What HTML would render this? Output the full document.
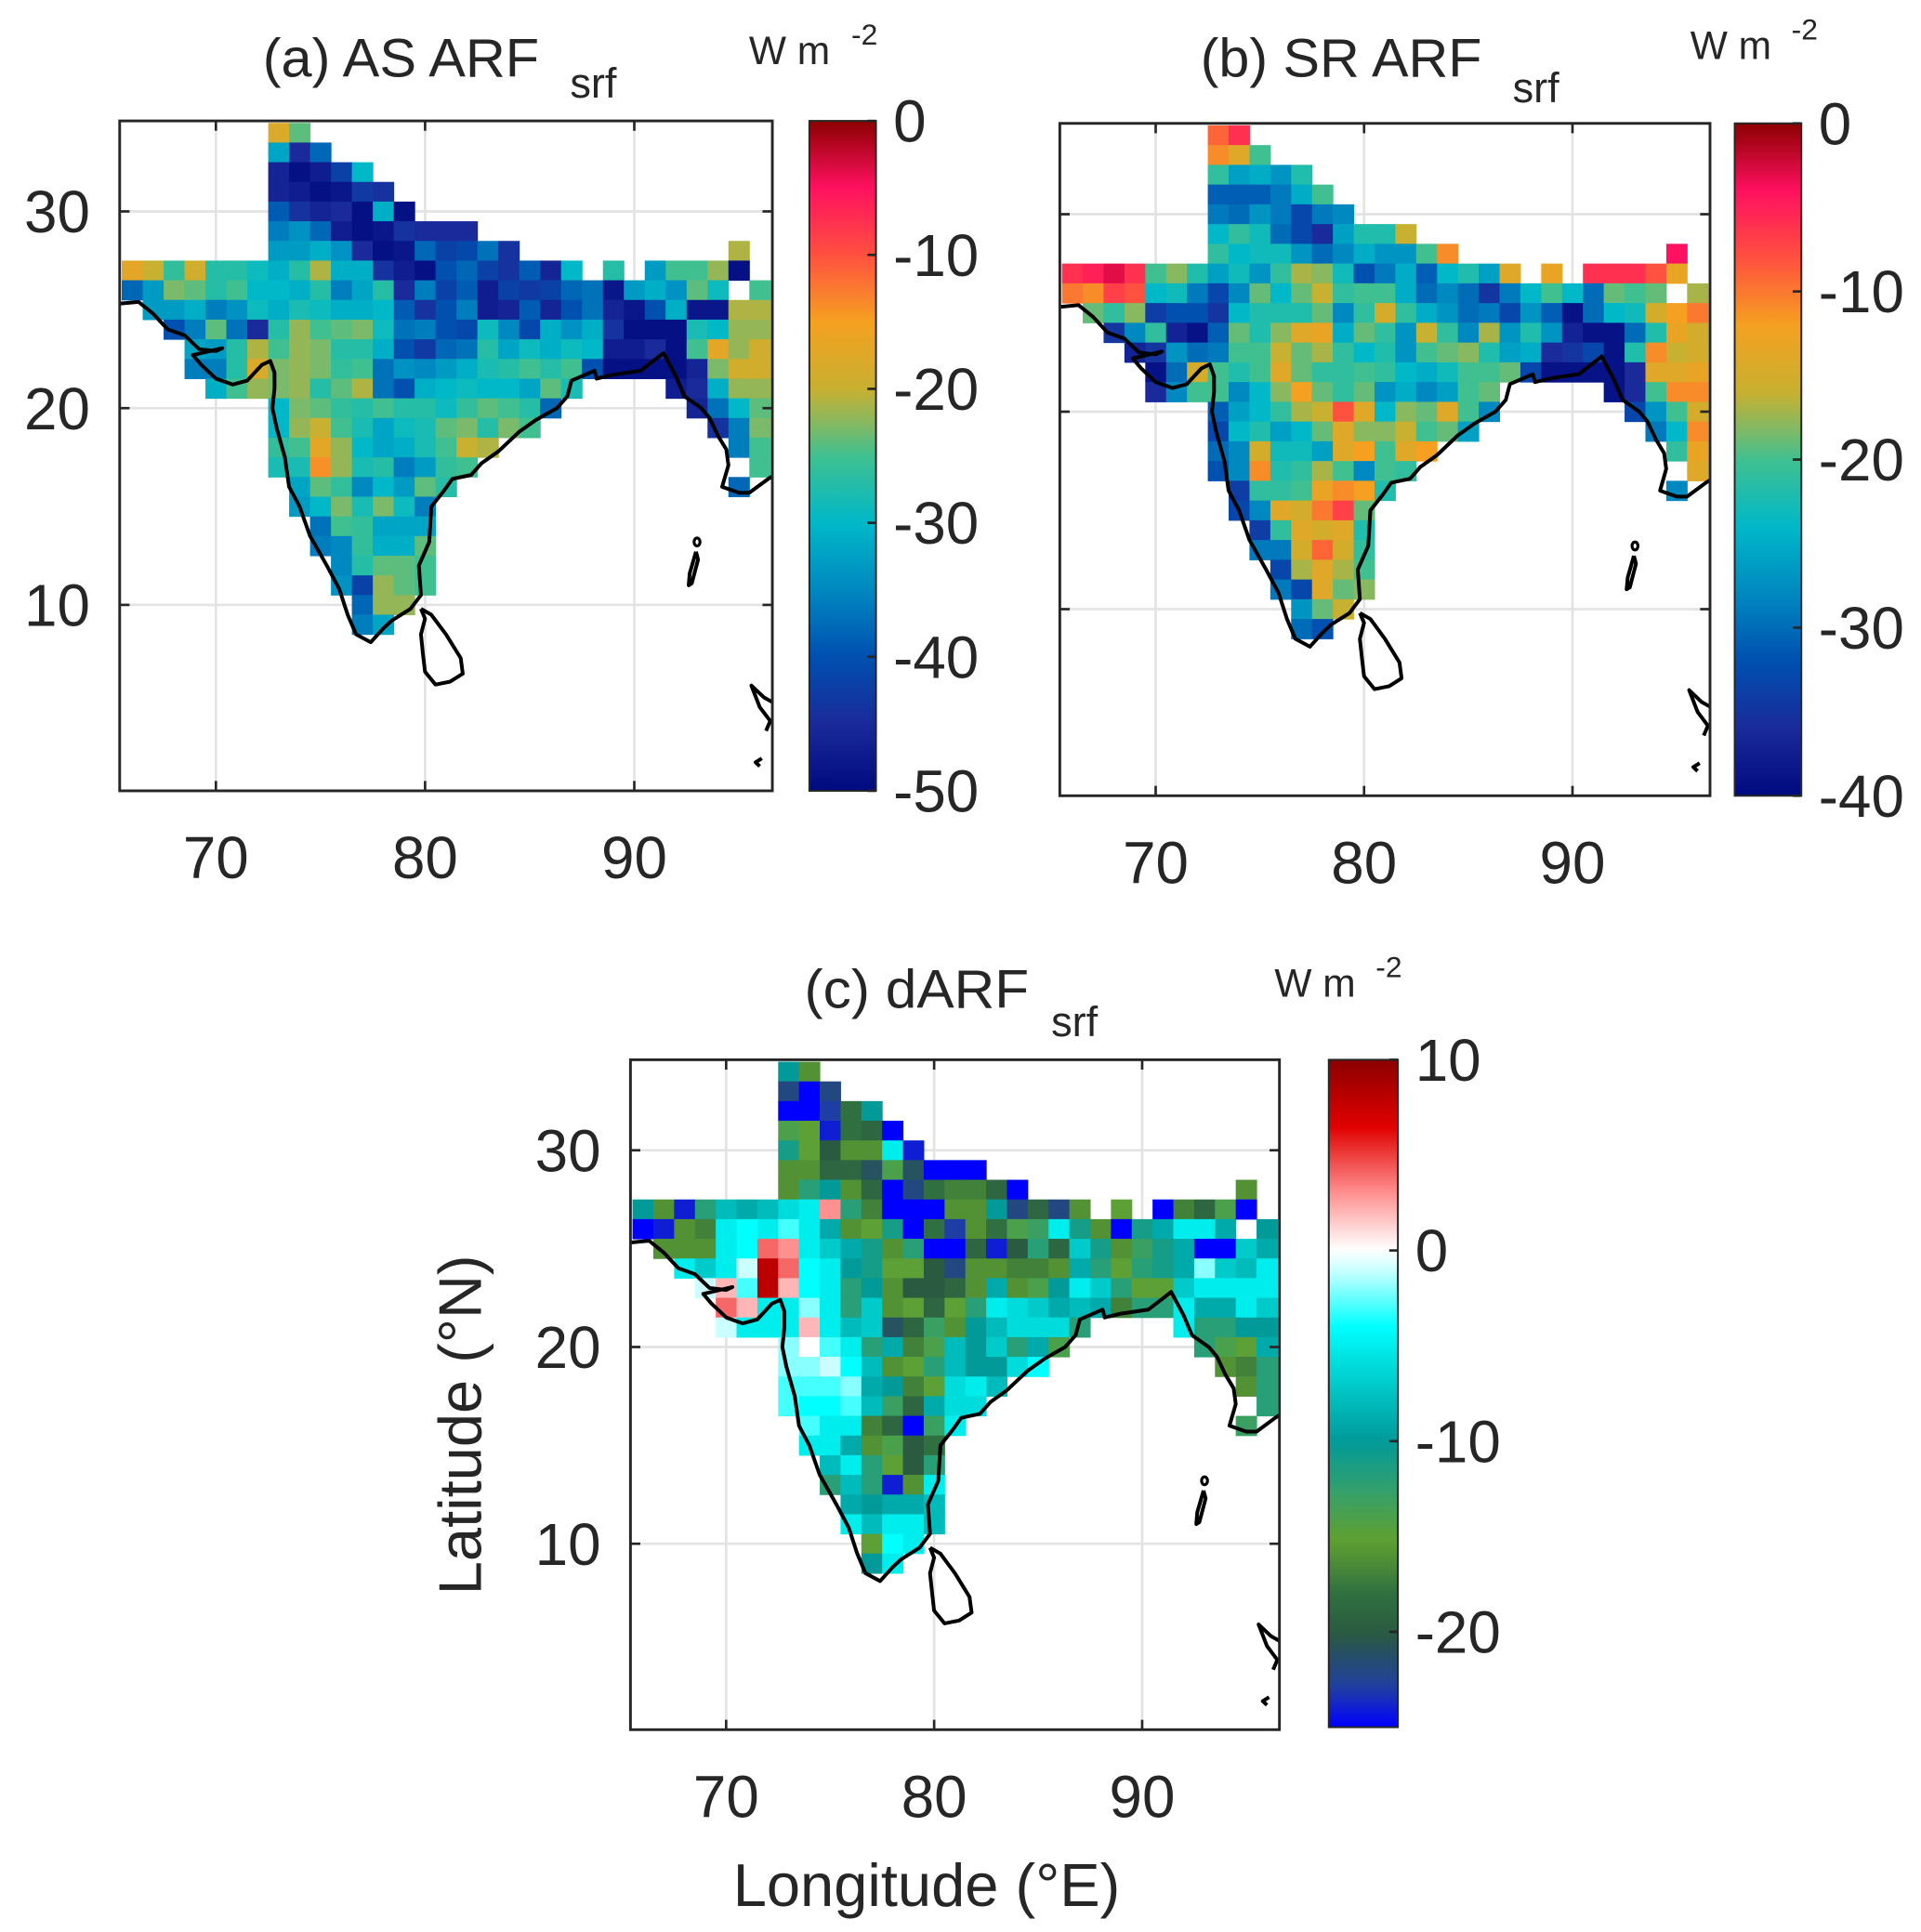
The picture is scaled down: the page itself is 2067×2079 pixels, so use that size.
<!DOCTYPE html>
<html><head><meta charset="utf-8">
<style>
html,body{margin:0;padding:0;background:#fff;}
svg{display:block;}
text{font-family:"Liberation Sans",sans-serif;fill:#262626;}
</style></head>
<body>
<svg id="fig" xmlns="http://www.w3.org/2000/svg" width="2067" height="2079" viewBox="0 0 1557 1566" preserveAspectRatio="none">
  <defs>
    <clipPath id="clipA"><rect x="97" y="98" width="529" height="543"/></clipPath>
    <clipPath id="clipB"><rect x="859" y="100" width="527" height="545"/></clipPath>
    <clipPath id="clipC"><rect x="511" y="859" width="526" height="543"/></clipPath>
  </defs>
  <g id="panelA"></g>
  <g id="panelB"></g>
  <g id="panelC"></g>

  <text x="213" y="62" font-size="44" textLength="224" lengthAdjust="spacingAndGlyphs">(a) AS ARF</text>
  <text x="462" y="79" font-size="34">srf</text>
  <text x="607" y="52" font-size="32">W m</text>
  <text x="690" y="36" font-size="24">-2</text>

  <text x="973" y="62" font-size="44" textLength="228" lengthAdjust="spacingAndGlyphs">(b) SR ARF</text>
  <text x="1226" y="83" font-size="34">srf</text>
  <text x="1370" y="48" font-size="32">W m</text>
  <text x="1452" y="32" font-size="24">-2</text>

  <text x="652" y="817" font-size="44" textLength="182" lengthAdjust="spacingAndGlyphs">(c) dARF</text>
  <text x="852" y="840" font-size="34">srf</text>
  <text x="1033" y="808" font-size="32">W m</text>
  <text x="1115" y="792" font-size="24">-2</text>

  <text x="0" y="0" font-size="49" text-anchor="middle" transform="translate(390,1155) rotate(-90)">Latitude (°N)</text>
  <text x="751" y="1545" font-size="49" text-anchor="middle">Longitude (°E)</text>
</svg>
<script>
// ---- data (lat, start lon, values W m-2) ----
const aRows = [
[34,73,[-18,-24]],
[33,73,[-32,-45,-38]],
[32,73,[-46,-49,-47,-42,-30]],
[31,73,[-46,-47,-49,-48,-43,-44]],
[30,73,[-39,-44,-46,-45,-49,-31,-49]],
[29,73,[-36,-34,-38,-47,-49,-48,-44,-45,-45,-45]],
[28,73,[-33,-33,-31,-34,-45,-49,-48,-38,-42,-41,-37,-44]],
[28,95,[-21]],
[27,66,[-17,-20,-26,-19,-27,-27,-29,-31,-27,-21,-31,-31,-44,-47,-49,-40,-38,-42,-44,-39,-46,-30,null,-27,null,-33,-25,-25,-22,-49]],
[26,66,[-38,-33,-23,-24,-27,-25,-30,-30,-31,-27,-36,-32,-27,-45,-36,-42,-39,-47,-42,-43,-42,-38,-37,-48,-33,-31,-34,-24,-29,null,-25]],
[25,67,[-33,-33,-31,-36,-34,-29,-31,-28,-29,-31,-31,-30,-39,-44,-40,-36,-47,-46,-39,-46,-40,-37,-46,-48,-40,-31,-48,-48,-21,-21]],
[24,68,[-40,-36,-24,-37,-45,-27,-22,-25,-24,-23,-29,-37,-36,-40,-41,-29,-35,-41,-31,-34,-31,-44,-49,-49,-49,-28,-30,-22,-22]],
[23,69,[-32,-33,-27,-21,-25,-22,-23,-27,-27,-31,-40,-43,-38,-37,-27,-32,-29,-31,-29,-30,-47,-47,-45,-49,-25,-17,-22,-19]],
[22,69,[-36,-36,-27,-18,-23,-22,-23,-26,-25,-37,-34,-35,-33,-31,-28,-27,-25,-27,-25,-40,-49,-49,-49,-49,-46,-23,-19,-19]],
[21,70,[-31,-25,-22,-23,-22,-27,-24,-21,-37,-40,-31,-30,-29,-30,-30,-32,-24,-28]],
[21,92,[-47,-45,-31,-22,-22]],
[20,73,[-30,-23,-24,-26,-27,-25,-27,-27,-29,-26,-24,-25,-27,-38]],
[20,93,[-46,-37,-30,-24]],
[19,73,[-30,-22,-20,-25,-28,-32,-29,-28,-24,-23,-27,-23,-25]],
[19,94,[-44,-36,-23]],
[18,73,[-26,-25,-17,-22,-30,-32,-31,-28,-25,-20,-21]],
[18,95,[-36,-25]],
[17,73,[-28,-28,-14,-22,-28,-27,-36,-33,-26,-25]],
[17,96,[-25]],
[16,74,[-32,-24,-26,-35,-30,-33,-24,-27]],
[16,95,[-38]],
[15,74,[-33,-30,-23,-28,-23,-29,-36]],
[14,75,[-37,-25,-26,-32,-32,-32]],
[13,75,[-36,-35,-26,-31,-31,-24]],
[12,76,[-35,-27,-24,-24,-25]],
[11,76,[-34,-42,-22,-24,-25]],
[10,77,[-38,-22,-22]],
[9,77,[-36,-32]]
];
const bRows = [
[34,73,[-9,-6]],
[33,73,[-11,-14,-20]],
[32,73,[-21,-26,-25,-27,-22]],
[31,73,[-31,-31,-31,-29,-25,-20]],
[30,73,[-29,-30,-27,-29,-33,-29,-28]],
[29,73,[-24,-21,-23,-30,-33,-36,-26,-22,-22,-16]],
[28,73,[-21,-24,-23,-23,-27,-30,-28,-25,-27,-27,-20,-11]],
[28,95,[-4]],
[27,66,[-6,-5,-3,-6,-20,-18,-22,-26,-23,-27,-21,-17,-18,-23,-32,-29,-25,-31,-24,-22,-26,-14,null,-13,null,-6,-6,-6,-8,-13]],
[26,66,[-10,-11,-7,-8,-24,-23,-29,-33,-28,-19,-24,-19,-16,-21,-20,-20,-25,-30,-28,-30,-35,-29,-24,-20,-24,-30,-19,-20,-19,null,-17]],
[25,67,[-19,-21,-18,-34,-32,-32,-35,-24,-22,-22,-22,-19,-28,-21,-15,-21,-25,-27,-30,-29,-33,-27,-31,-39,-30,-24,-23,-15,-12,-10]],
[24,68,[-35,-28,-21,-37,-39,-31,-19,-22,-18,-14,-13,-25,-19,-21,-27,-16,-21,-28,-17,-27,-22,-27,-37,-39,-39,-30,-22,-13,-15]],
[23,69,[-37,-35,-27,-30,-29,-20,-20,-16,-19,-17,-21,-24,-22,-27,-20,-19,-18,-22,-26,-25,-36,-35,-33,-39,-22,-11,-16,-15]],
[22,70,[-39,-30,-15,-20,-22,-20,-14,-19,-21,-21,-20,-21,-24,-25,-23,-20,-20,-19,-33,-39,-39,-39,-39,-36,-14,-14,-13]],
[21,70,[-36,-28,-20,-20,-28,-24,-18,-12,-19,-21,-19,-27,-25,-28,-26,-20,-19]],
[21,92,[-39,-36,-20,-11,-11]],
[20,73,[-31,-26,-24,-21,-17,-16,-8,-14,-24,-18,-19,-14,-20,-28]],
[20,93,[-33,-27,-20,-15]],
[19,73,[-33,-24,-22,-26,-24,-19,-14,-18,-18,-16,-20,-19,-26]],
[19,94,[-29,-24,-11]],
[18,73,[-30,-28,-15,-23,-23,-26,-14,-12,-20,-14,-12]],
[18,95,[-21,-13]],
[17,73,[-32,-28,-11,-22,-21,-17,-20,-28,-20,-21]],
[17,96,[-14]],
[16,74,[-34,-21,-21,-20,-13,-11,-12,-22]],
[16,95,[-28]],
[15,74,[-33,-28,-14,-15,-10,-7,-19]],
[14,75,[-34,-21,-14,-15,-14,-22]],
[13,75,[-29,-29,-15,-9,-15,-21]],
[12,76,[-33,-17,-14,-17,-20]],
[11,76,[-29,-33,-14,-19,-18]],
[10,77,[-27,-19,-16]],
[9,77,[-30,-32]]
];
const cRows = [
[34,73,[-10,-16]],
[33,73,[-22,-25,-22]],
[32,73,[-25,-25,-23,-18,-10]],
[31,73,[-14,-15,-24,-18,-19,-25]],
[30,73,[-11,-15,-20,-16,-16,-5,-24]],
[29,73,[-16,-16,-19,-19,-21,-14,-21,-25,-25,-25]],
[28,73,[-16,-12,-10,-16,-19,-25,-22,-18,-17,-17,-19,-25]],
[28,95,[-16]],
[27,66,[-10,-16,-24,-12,-8,-9,-8,-6,-5,3,-12,-17,-25,-25,-25,-16,-16,-10,-22,-19,-22,-16,null,-15,null,-25,-17,-19,-14,-25]],
[26,66,[-25,-24,-16,-17,-5,-4,-5,-3,-5,-9,-16,-15,-11,-25,-18,-23,-16,-18,-14,-13,-5,-11,-16,-25,-11,-9,-5,-5,-9,null,-10]],
[25,67,[-16,-16,-16,-5,-4,4,3,-5,-7,-9,-11,-16,-12,-25,-25,-19,-24,-20,-12,-19,-7,-11,-16,-13,-11,-9,-25,-25,-7,-9]],
[24,68,[-5,-7,-5,-1,8,4,-4,-5,-10,-11,-15,-15,-20,-22,-16,-16,-17,-17,-16,-9,-12,-15,-12,-11,-9,-2,-7,-8,-5]],
[23,69,[-1,2,-3,8,2,-4,-5,-12,-10,-16,-20,-20,-19,-16,-9,-16,-14,-10,-5,-7,-12,-15,-15,-7,-5,-5,-5,-5]],
[22,70,[4,2,-5,-5,-2,-5,-12,-7,-16,-15,-19,-15,-12,-5,-6,-7,-9,-8,-9,-17,-12,-12,-5,-9,-9,-5,-7]],
[21,70,[-1,-5,-5,-5,2,-5,-8,-7,-21,-19,-13,-16,-10,-8,-6,-6,-6,-12]],
[21,92,[-5,-12,-12,-10,-10]],
[20,73,[-2,0,-3,-5,-12,-9,-17,-14,-8,-10,-7,-12,-9,-14]],
[20,93,[-12,-14,-15,-9]],
[19,73,[-2,-2,-1,-4,-8,-16,-15,-12,-8,-10,-10,-6,-4]],
[19,94,[-16,-17,-12]],
[18,73,[-3,-3,-3,-2,-9,-10,-17,-15,-6,-5,-8]],
[18,95,[-16,-12]],
[17,73,[-3,-4,-4,-3,-8,-13,-19,-9,-6,-6]],
[17,96,[-12]],
[16,74,[-3,-5,-5,-17,-19,-25,-13,-5]],
[16,95,[-13]],
[15,74,[-5,-5,-9,-16,-14,-20,-18]],
[14,75,[-8,-5,-12,-15,-20,-12]],
[13,75,[-12,-8,-12,-24,-16,-5]],
[12,76,[-9,-10,-9,-9,-8]],
[11,76,[-5,-8,-5,-5,-8]],
[10,77,[-15,-4,-5]],
[9,77,[-10,-5]]
];
const lonTicks = [70, 80, 90];
const latTicks = [10, 20, 30];
const cbTicksA = [0, -10, -20, -30, -40, -50];
const cbTicksB = [0, -10, -20, -30, -40];
const cbTicksC = [10, 0, -10, -20];

const cmapMain = [[0,'#000a80'],[0.1,'#1a2a9a'],[0.2,'#0050b0'],[0.3,'#0088c0'],[0.4,'#00b8c8'],[0.5,'#40c090'],[0.55,'#88b860'],[0.6,'#c8b030'],[0.7,'#f5a020'],[0.8,'#ff5040'],[0.9,'#ff1060'],[1,'#8b0000']];
const cmapDiff = [[0,'#0000ff'],[0.06,'#2040a0'],[0.14,'#2a5a40'],[0.2,'#307040'],[0.28,'#60a030'],[0.36,'#30a070'],[0.43,'#009a9a'],[0.55,'#00e0e0'],[0.6,'#00ffff'],[0.68,'#c0ffff'],[0.714,'#ffffff'],[0.74,'#ffe0e0'],[0.8,'#ff9090'],[0.9,'#e00000'],[1,'#8b0000']];

const coastMain = [[65.3,25.3],[66.3,25.4],[67,24.8],[67.7,24],[68.5,23.7],[69.2,23.0],[70,22.9],[70.3,23.05],[68.9,22.7],[69.3,22.2],[70,21.5],[70.8,21.2],[71.5,21.4],[72.2,22.2],[72.6,22.4],[72.8,21.8],[72.8,21.0],[72.7,20.0],[72.9,19.0],[73.3,17.5],[73.5,16.0],[74.0,15.0],[74.5,13.5],[75.3,12.0],[75.9,10.8],[76.3,9.5],[76.7,8.5],[77.4,8.1],[78.0,8.8],[78.4,9.2],[79.3,9.8],[79.8,10.5],[79.7,12],[80.2,13.2],[80.3,15],[80.9,15.8],[81.3,16.4],[82.2,16.6],[82.7,17.2],[83.5,17.8],[84.5,18.8],[85.3,19.4],[86.3,20.0],[86.8,20.6],[87.0,21.4],[88.1,21.9],[88.2,21.5],[89,21.7],[90.3,21.9],[91.4,22.8],[92.0,21.6],[92.4,20.6],[93.2,20.0],[93.6,19.5],[94.0,18.6],[94.4,17.9],[94.5,17.1],[94.2,16.0],[95.0,15.7],[95.5,15.7],[96.4,16.4],[96.7,16.6]];
const coastLanka = [[79.8,9.8],[80.3,9.5],[81,8.5],[81.7,7.3],[81.8,6.5],[81.2,6.1],[80.5,5.95],[80.0,6.6],[79.9,7.5],[79.8,8.5],[80.0,9.3],[79.8,9.8]];
const coastAndaman = [[92.95,12.7],[93.05,12.3],[92.75,11.1],[92.6,11.0],[92.65,11.6],[92.95,12.7]];
const coastMyanmar = [[96.7,5.0],[96.2,5.3],[95.6,5.9],[96.0,4.8],[96.5,4.1],[96.3,3.6]];
const coastBit = [[96.1,2.2],[95.8,2.0],[96.0,1.8]];

const NS = 'http://www.w3.org/2000/svg';
function hex(c){return [parseInt(c.slice(1,3),16),parseInt(c.slice(3,5),16),parseInt(c.slice(5,7),16)];}
function cmapColor(cm, t){
  t = Math.max(0, Math.min(1, t));
  for (let i = 1; i < cm.length; i++) {
    if (t <= cm[i][0]) {
      const a = cm[i-1], b = cm[i];
      const f = (t - a[0]) / (b[0] - a[0]);
      const ca = hex(a[1]), cb = hex(b[1]);
      return 'rgb(' + ca.map((v,k)=>Math.round(v + (cb[k]-v)*f)).join(',') + ')';
    }
  }
  return cm[cm.length-1][1];
}
function mk(tag, attrs, parent){
  const e = document.createElementNS(NS, tag);
  for (const k in attrs) e.setAttribute(k, attrs[k]);
  parent.appendChild(e);
  return e;
}

const LON0 = 65.4, LON1 = 96.6, LAT0 = 0.55, LAT1 = 34.6;

function drawPanel(g, box, rows, cmap, vmin, vmax, clipId, cb, cbTicks, showY, prefix){
  const xs = lon => box.x0 + (lon - LON0) / (LON1 - LON0) * (box.x1 - box.x0);
  const ys = lat => box.y0 + (LAT1 - lat) / (LAT1 - LAT0) * (box.y1 - box.y0);
  const dx = (box.x1 - box.x0) / (LON1 - LON0), dy = (box.y1 - box.y0) / (LAT1 - LAT0);
  const bg = mk('rect', {x:box.x0, y:box.y0, width:box.x1-box.x0, height:box.y1-box.y0, fill:'#fff'}, g);
  
  
  lonTicks.forEach(lon => {
    const l = mk('line', {x1:xs(lon), x2:xs(lon), y1:box.y0, y2:box.y1, stroke:'#e3e3e3', 'stroke-width':2}, g);
    
    
  });
  latTicks.forEach(lat => {
    const l = mk('line', {x1:box.x0, x2:box.x1, y1:ys(lat), y2:ys(lat), stroke:'#e3e3e3', 'stroke-width':2}, g);
    
    
  });
  const cg = mk('g', {'clip-path':'url(#' + clipId + ')'}, g);
  
  
  rows.forEach(r => {
    const lat = r[0], lon0 = r[1];
    r[2].forEach((v, i) => {
      if (v === null) return;
      const lon = lon0 + i;
      const c = mk('rect', {x:xs(lon - 0.5), y:ys(lat + 0.5), width:dx + 0.4, height:dy + 0.4, fill:cmapColor(cmap, (v - vmin) / (vmax - vmin))}, cg);
      
      
    });
  });
  const coastG = mk('g', {'clip-path':'url(#' + clipId + ')'}, g);
  
  
  [coastMain, coastLanka, coastAndaman, coastMyanmar, coastBit].forEach(pts => {
    const d = pts.map((p, i) => (i ? 'L' : 'M') + xs(p[0]).toFixed(1) + ' ' + ys(p[1]).toFixed(1)).join(' ');
    const p = mk('path', {d:d, fill:'none', stroke:'#000', 'stroke-width':3, 'stroke-linejoin':'round'}, coastG);
    
    
  });
  const andDot = mk('ellipse', {cx:xs(93.0), cy:ys(13.2), rx:2.4, ry:3.2, fill:'none', stroke:'#000', 'stroke-width':2.4}, coastG);
  
  
  const bx = mk('rect', {x:box.x0, y:box.y0, width:box.x1-box.x0, height:box.y1-box.y0, fill:'none', stroke:'#262626', 'stroke-width':2.2}, g);
  
  
  lonTicks.forEach(lon => {
    const x = xs(lon);
    const t1 = mk('line', {x1:x, x2:x, y1:box.y1, y2:box.y1 - 8, stroke:'#262626', 'stroke-width':2}, g);
    
    
    const t2 = mk('line', {x1:x, x2:x, y1:box.y0, y2:box.y0 + 8, stroke:'#262626', 'stroke-width':2}, g);
    
    
    const tl = mk('text', {x:x, y:box.y1 + 71, 'font-size':48, 'text-anchor':'middle'}, g);
    tl.textContent = String(lon);
    
    
  });
  latTicks.forEach(lat => {
    const y = ys(lat);
    const t1 = mk('line', {x1:box.x0, x2:box.x0 + 8, y1:y, y2:y, stroke:'#262626', 'stroke-width':2}, g);
    
    
    const t2 = mk('line', {x1:box.x1, x2:box.x1 - 8, y1:y, y2:y, stroke:'#262626', 'stroke-width':2}, g);
    
    
    if (showY) {
      const tl = mk('text', {x:box.x0 - 24, y:y + 17, 'font-size':48, 'text-anchor':'end'}, g);
      tl.textContent = String(lat);
      
      
    }
  });
  const gid = 'grad-' + prefix;
  const defs = document.querySelector('defs');
  const lg = mk('linearGradient', {id:gid, x1:0, y1:1, x2:0, y2:0}, defs);
  for (let i = 0; i <= 60; i++) {
    mk('stop', {offset:(i/60).toFixed(4), 'stop-color':cmapColor(cmap, i/60)}, lg);
  }
  const cbr = mk('rect', {x:cb.x, y:cb.y0, width:cb.w, height:cb.y1 - cb.y0, fill:'url(#' + gid + ')', stroke:'#262626', 'stroke-width':1.5}, g);
  
  
  const cy = v => cb.y1 - (v - vmin) / (vmax - vmin) * (cb.y1 - cb.y0);
  cbTicks.forEach(v => {
    const tk = mk('line', {x1:cb.x + cb.w - 7, x2:cb.x + cb.w, y1:cy(v), y2:cy(v), stroke:'#262626', 'stroke-width':2}, g);
    
    
    const tl = mk('text', {x:cb.x + cb.w + 14, y:cy(v) + 17, 'font-size':48}, g);
    tl.textContent = String(v);
    
    
  });
}

drawPanel(document.getElementById('panelA'), {x0:97,x1:626,y0:98,y1:641}, aRows, cmapMain, -50, 0, 'clipA', {x:656,w:54,y0:98,y1:641}, cbTicksA, true, 'panel-a');
drawPanel(document.getElementById('panelB'), {x0:859,x1:1386,y0:100,y1:645}, bRows, cmapMain, -40, 0, 'clipB', {x:1406,w:54,y0:100,y1:645}, cbTicksB, false, 'panel-b');
drawPanel(document.getElementById('panelC'), {x0:511,x1:1037,y0:859,y1:1402}, cRows, cmapDiff, -25, 10, 'clipC', {x:1077,w:56,y0:859,y1:1400}, cbTicksC, true, 'panel-c');
</script>
</body></html>
